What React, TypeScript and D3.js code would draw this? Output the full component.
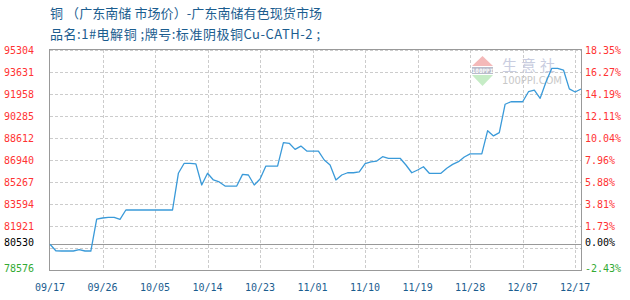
import React from "react";
import * as d3 from "d3";

const prices: number[] = [
  80530, 80040, 80020, 80020, 80020, 80120, 80020, 80020, 82450, 82530,
  82580, 82580, 82430, 83140, 83140, 83140, 83140, 83140, 83140, 83140,
  83140, 83140, 85930, 86690, 86690, 86650, 85040, 85930, 85420, 85270,
  84960, 84960, 84960, 85850, 85800, 85040, 85500, 86480, 86480, 86480,
  88260, 88210, 87750, 88000, 87620, 87620, 87620, 86940, 86560, 85420,
  85800, 85970, 85970, 86030, 86670, 86790, 86860, 87190, 87070, 87070,
  87070, 86560, 85970, 86180, 86430, 85930, 85930, 85930, 86310, 86610,
  86810, 87170, 87400, 87400, 87400, 89170, 88770, 89020, 91180, 91370,
  91370, 91370, 92130, 92260, 91630, 92870, 93910, 93910, 93780, 92350,
  92110, 92340,
];

const basePrice = 80530;
const yMinValue = 78576;
const yMaxValue = 95304;
const labeledGridValues: number[] = [95304, 93631, 91958, 90285, 88612, 86940, 85267, 83594, 81921];
const unlabeledGridValues: number[] = [80249];
const pctLabels: string[] = ["18.35%", "16.27%", "14.19%", "12.11%", "10.04%", "7.96%", "5.88%", "3.81%", "1.73%"];
const basePctLabel = "0.00%";
const minPctLabel = "-2.43%";
const xTickIndex: number[] = [0, 9, 18, 27, 36, 45, 54, 63, 72, 81, 90];
const xTickLabels: string[] = ["09/17", "09/26", "10/05", "10/14", "10/23", "11/01", "11/10", "11/19", "11/28", "12/07", "12/17"];
const titleLine1 = "铜 （广东南储 市场价）-广东南储有色现货市场";
const titleLine2 = "品名:1#电解铜 ;牌号:标准阴极铜Cu-CATH-2 ;";

const W = 630;
const H = 300;
const L = 50;
const R = 581;
const T = 50;
const B = 270;

export default function App() {
  const x = d3.scaleLinear().domain([0, prices.length - 1]).range([L, R]);
  const y = d3.scaleLinear().domain([yMinValue, yMaxValue]).range([B, T]);
  const line = d3
    .line<number>()
    .x((_, i) => x(i))
    .y((d) => y(d));
  const mono = "'DejaVu Sans Mono', 'Liberation Mono', monospace";
  const cjk = "'Noto Sans CJK SC', 'DejaVu Sans', sans-serif";
  const red = "#ff3333";
  const green = "#33aa33";
  const blue = "#1b5d8f";
  const gridColor = "#cccccc";
  const axisColor = "#999999";
  const r = (v: number) => Math.round(v) + 0.5;

  return (
    <svg
      width={W}
      height={H}
      style={{ position: "absolute", left: 0, top: 0, background: "#fff" }}
    >
      <text x={50} y={18} fontFamily={cjk} fontSize={13} fill={blue} textLength={272} lengthAdjust="spacing">
        {titleLine1}
      </text>
      <text x={50} y={39} fontFamily={cjk} fontSize={13} fill={blue} textLength={270} lengthAdjust="spacing">
        {titleLine2}
      </text>

      {/* grid */}
      <g shapeRendering="crispEdges">
        {[...labeledGridValues, ...unlabeledGridValues].map((v, i) => (
          <line key={"h" + i} x1={L} x2={R} y1={r(y(v))} y2={r(y(v))} stroke={gridColor} strokeDasharray="3,2" />
        ))}
        {xTickIndex.slice(1).map((t, i) => (
          <line key={"v" + i} x1={r(x(t))} x2={r(x(t))} y1={T} y2={B} stroke={gridColor} strokeDasharray="3,2" />
        ))}
        <line x1={L} x2={R} y1={r(y(basePrice))} y2={r(y(basePrice))} stroke={axisColor} strokeWidth={1} />
        <line x1={L} x2={R + 0.5} y1={T - 0.5} y2={T - 0.5} stroke={axisColor} />
        <line x1={L} x2={R + 0.5} y1={B + 0.5} y2={B + 0.5} stroke={axisColor} strokeWidth={1.5} />
        <line x1={L - 0.5} x2={L - 0.5} y1={T - 1} y2={B + 1} stroke={axisColor} strokeWidth={1.5} />
        <line x1={R + 0.5} x2={R + 0.5} y1={T - 1} y2={B + 1} stroke={axisColor} strokeWidth={1.5} />
      </g>

      {/* watermark */}
      <g>
        <polygon points="472,66 482.5,56 493,66" fill="#f4b9b9" />
        <rect x={472} y={67} width={21} height={7} fill="#b9bccb" />
        <text x={482.5} y={73} textAnchor="middle" fontFamily={mono} fontSize={6} fill="#ffffff" fontWeight="bold">
          100PPI
        </text>
        <polygon points="472,75 493,75 482.5,86" fill="#c6ecc6" />
        <text x="502 521 540" y={71} fontFamily={cjk} fontSize={15} fill="#c9cde0">
          生意社
        </text>
        <text x={502} y={84} fontFamily="'DejaVu Sans', sans-serif" fontSize={10} fill="#c8c8c8" textLength={60} lengthAdjust="spacing">
          100PPI.COM
        </text>
      </g>

      <path d={line(prices) ?? ""} fill="none" stroke="#3a9ad9" strokeWidth={1.3} strokeLinejoin="round" />

      {/* axis labels */}
      <g fontFamily={mono} fontSize={10}>
        {labeledGridValues.map((v, i) => (
          <text key={"l" + i} x={4} y={y(v) + 3.5} fill={red}>
            {String(v)}
          </text>
        ))}
        <text x={4} y={y(basePrice) + 2} fill="#000">
          {String(basePrice)}
        </text>
        <text x={4} y={y(yMinValue) + 2} fill={green}>
          {String(yMinValue)}
        </text>

        {labeledGridValues.map((v, i) => (
          <text key={"p" + i} x={585} y={y(v) + 3.5} fill={red}>
            {pctLabels[i]}
          </text>
        ))}
        <text x={585} y={y(basePrice) + 2} fill="#000">
          {basePctLabel}
        </text>
        <text x={585} y={y(yMinValue) + 2} fill={green}>
          {minPctLabel}
        </text>

        {xTickIndex.map((t, i) => (
          <text key={"x" + i} x={x(t)} y={291} textAnchor="middle" fill={blue}>
            {xTickLabels[i]}
          </text>
        ))}
      </g>
    </svg>
  );
}
